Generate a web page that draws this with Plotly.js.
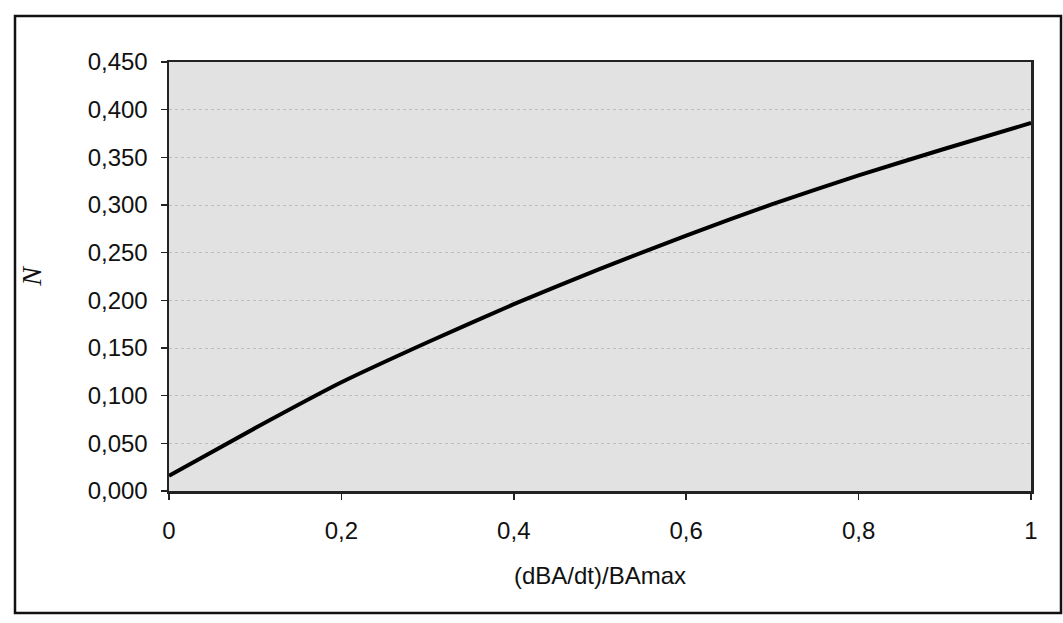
<!DOCTYPE html>
<html>
<head>
<meta charset="utf-8">
<script src="https://cdn.plot.ly/plotly-3.0.1.min.js"></script>
<style>
  html, body { margin: 0; padding: 0; background: #ffffff; }
  #chart { width: 1063px; height: 623px; }
</style>
</head>
<body>
<div id="chart"></div>
<script>
// Data
const xValues = [0, 0.1, 0.2, 0.3, 0.4, 0.5, 0.6, 0.7, 0.8, 0.9, 1.0];
const nValues = [0.016, 0.066, 0.114, 0.156, 0.196, 0.233, 0.268, 0.301, 0.331, 0.359, 0.386];
const yTickValues = [0, 0.05, 0.1, 0.15, 0.2, 0.25, 0.3, 0.35, 0.4, 0.45];
const yTickLabels = ["0,000", "0,050", "0,100", "0,150", "0,200", "0,250", "0,300", "0,350", "0,400", "0,450"];
const xTickValues = [0, 0.2, 0.4, 0.6, 0.8, 1];
const xTickLabels = ["0", "0,2", "0,4", "0,6", "0,8", "1"];
const xTitle = "(dBA/dt)/BAmax";
const yTitle = "<i>N</i>";

const W = 1063, H = 623;
const L = 169, R = 1031, T = 62, B = 491;
const px = v => (v - L) / (R - L);
const py = v => (B - v) / (B - T);

const trace = {
  x: xValues,
  y: nValues,
  type: 'scatter',
  mode: 'lines',
  line: { color: '#000000', width: 4, shape: 'spline', smoothing: 0.6 },
  hoverinfo: 'skip'
};

const layout = {
  width: W,
  height: H,
  margin: { l: L, r: W - R, t: T, b: H - B, pad: 0 },
  paper_bgcolor: '#ffffff',
  plot_bgcolor: '#e2e2e2',
  showlegend: false,
  separators: ',.',
  font: { family: 'Liberation Sans, Arial, sans-serif', color: '#111111', size: 24 },
  xaxis: {
    range: [0, 1],
    tickvals: xTickValues,
    ticktext: xTickLabels,
    ticks: 'outside',
    ticklen: 6,
    tickwidth: 1.5,
    tickcolor: '#222',
    ticklabelstandoff: 11,
    showgrid: false,
    zeroline: false,
    showline: true,
    linecolor: '#222',
    linewidth: 2.5,
    mirror: true,
    tickfont: { size: 24, color: '#111' },
    title: { text: xTitle, font: { size: 24, color: '#111' }, standoff: 24 }
  },
  yaxis: {
    range: [0, 0.45],
    tickvals: yTickValues,
    ticktext: yTickLabels,
    ticks: 'outside',
    ticklen: 6,
    tickwidth: 1.5,
    tickcolor: '#222',
    ticklabelstandoff: 8,
    showgrid: true,
    gridcolor: 'rgba(120,120,120,0.35)',
    gridwidth: 1,
    griddash: 'dot',
    zeroline: false,
    showline: true,
    linecolor: '#222',
    linewidth: 2.5,
    mirror: true,
    tickfont: { size: 24, color: '#111' },
    title: { text: yTitle, font: { family: 'Liberation Serif, Times New Roman, serif', size: 28, color: '#111' }, standoff: 38 }
  },
  shapes: [
    {
      type: 'rect', xref: 'paper', yref: 'paper',
      x0: px(15), x1: px(1061), y0: py(613), y1: py(16),
      line: { color: '#111111', width: 2.5 },
      fillcolor: 'rgba(0,0,0,0)',
      layer: 'below'
    }
  ]
};

Plotly.newPlot('chart', [trace], layout, { displayModeBar: false, staticPlot: true });
</script>
</body>
</html>
